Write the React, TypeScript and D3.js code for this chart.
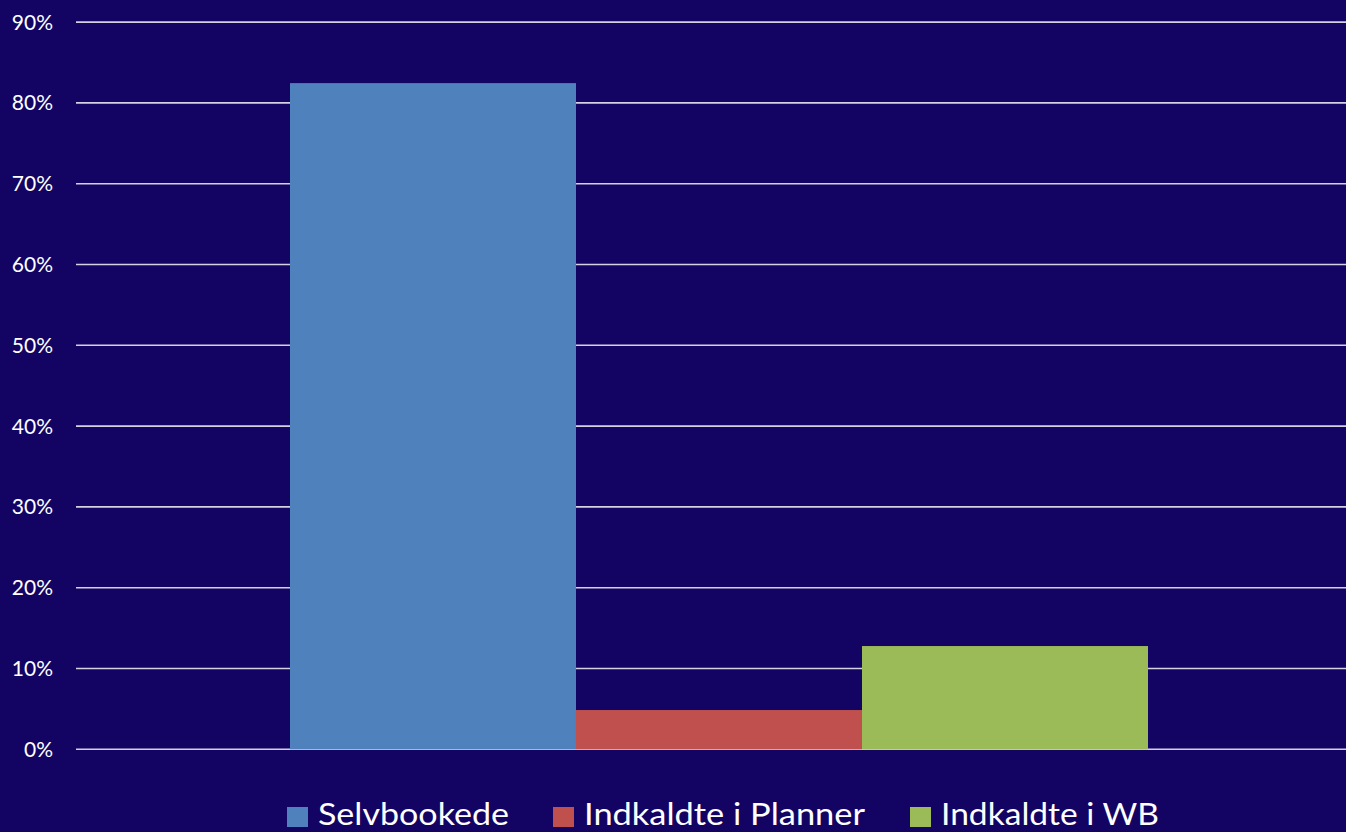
import React, { useEffect, useRef } from "react";
import * as d3 from "d3";

const categories = ["Total"];
const seriesNames = ["Selvbookede", "Indkaldte i Planner", "Indkaldte i WB"];
const seriesValues = [0.8245, 0.0486, 0.1278];
const seriesColors = ["#4F81BD", "#C0504D", "#9BBB59"];
const yTicks = [0, 0.1, 0.2, 0.3, 0.4, 0.5, 0.6, 0.7, 0.8, 0.9];
const legendTextWidths = [191, 281, 218];

const W = 1346;
const H = 832;
const BG = "#130464";

export default function App() {
  const ref = useRef<SVGSVGElement | null>(null);

  useEffect(() => {
    const svg = d3.select(ref.current);
    svg.selectAll("*").remove();

    svg.append("rect").attr("width", W).attr("height", H).attr("fill", BG);

    const y = d3.scaleLinear().domain([0, 0.9]).range([749.3, 22.1]);
    const x0 = d3
      .scaleBand<string>()
      .domain(categories)
      .range([76, 1362])
      .paddingInner(0)
      .paddingOuter(0.2494);
    const x1 = d3
      .scaleBand<string>()
      .domain(seriesNames)
      .range([0, x0.bandwidth()])
      .padding(0);

    // gridlines
    svg
      .append("g")
      .selectAll("line")
      .data(yTicks)
      .join("line")
      .attr("x1", 76)
      .attr("x2", W)
      .attr("y1", (d) => y(d))
      .attr("y2", (d) => y(d))
      .attr("stroke", "#d4d2e0")
      .attr("stroke-width", 1.6);

    // tick labels
    svg
      .append("g")
      .selectAll("text")
      .data(yTicks)
      .join("text")
      .attr("x", 53)
      .attr("y", (d) => y(d))
      .attr("dy", "0.36em")
      .attr("text-anchor", "end")
      .attr("fill", "#ffffff")
      .attr("font-family", "Lato, 'Open Sans', sans-serif")
      .attr("font-size", 21)
      .text((d) => d3.format(".0%")(d));

    // bars
    const g = svg
      .append("g")
      .attr("transform", `translate(${x0(categories[0])},0)`);
    g.selectAll("rect")
      .data(seriesNames.map((n, i) => ({ n, v: seriesValues[i], c: seriesColors[i] })))
      .join("rect")
      .attr("x", (d) => x1(d.n)!)
      .attr("width", x1.bandwidth())
      .attr("y", (d) => y(d.v))
      .attr("height", (d) => y(0) - y(d.v))
      .attr("fill", (d) => d.c);

    // legend
    const legendX = [287, 553, 910];
    const lg = svg.append("g");
    seriesNames.forEach((n, i) => {
      lg.append("rect")
        .attr("x", legendX[i])
        .attr("y", 807)
        .attr("width", 21)
        .attr("height", 20)
        .attr("fill", seriesColors[i]);
      lg.append("text")
        .attr("x", legendX[i] + 31)
        .attr("y", 825)
        .attr("fill", "#ffffff")
        .attr("font-family", "Lato, 'Open Sans', sans-serif")
        .attr("font-size", 30)
        .attr("textLength", legendTextWidths[i])
        .attr("lengthAdjust", "spacingAndGlyphs")
        .text(n);
    });
  }, []);

  return (
    <div style={{ position: "fixed", left: 0, top: 0, width: W, height: H, background: BG }}>
      <svg ref={ref} width={W} height={H} style={{ display: "block" }} />
    </div>
  );
}
